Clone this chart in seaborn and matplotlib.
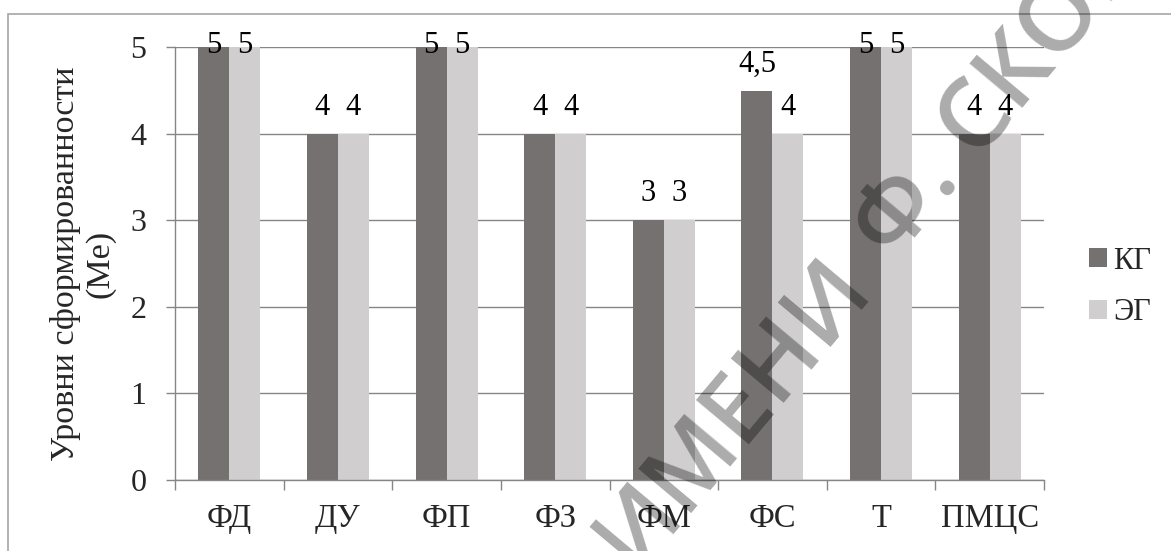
import numpy as np
import pandas as pd
import matplotlib
matplotlib.use("Agg")
import matplotlib.pyplot as plt
import seaborn as sns
from matplotlib.patches import Rectangle

# ---- data ----
categories = ["ФД", "ДУ", "ФП", "ФЗ", "ФМ", "ФС", "Т", "ПМЦС"]
series_names = ["КГ", "ЭГ"]
kg_values = [5, 4, 5, 4, 3, 4.5, 5, 4]
eg_values = [5, 4, 5, 4, 3, 4, 5, 4]
y_ticks = [0, 1, 2, 3, 4, 5]
y_label = "Уровни сформированности\n(Me)"
watermark_parts = ["ИМЕНИ", "Ф. СКОРИНЫ"]

df = pd.DataFrame({
    "cat": categories * 2,
    "group": [series_names[0]] * len(categories) + [series_names[1]] * len(categories),
    "value": kg_values + eg_values,
})

sns.set_theme(style="white")
plt.rcParams["font.family"] = ["Liberation Serif", "DejaVu Serif"]

W, H = 1171, 551
fig = plt.figure(figsize=(W / 100, H / 100), dpi=100)
ax = fig.add_axes([175 / W, 1 - 480 / H, (1044 - 175) / W, (480 - 47.4) / H])

sns.barplot(data=df, x="cat", y="value", hue="group",
            palette=["#767171", "#d0cece"], saturation=1,
            width=0.57, gap=0, errorbar=None,
            edgecolor="none", linewidth=0, ax=ax)

ax.set_ylim(0, 5)
ax.set_xlim(-0.5, len(categories) - 0.5)
ax.set_yticks(y_ticks)
ax.yaxis.grid(True, color="#868686", lw=1)
ax.set_axisbelow(True)
for s in ["top", "right"]:
    ax.spines[s].set_visible(False)
for s in ["left", "bottom"]:
    ax.spines[s].set_color("#868686")
    ax.spines[s].set_linewidth(1)

ax.tick_params(axis="y", which="major", length=6.5, width=1, color="#868686",
               direction="out", pad=14, labelsize=23, left=True)
ax.tick_params(axis="x", which="major", length=0, pad=17, labelsize=23.5)
ax.set_xticks(np.arange(-0.5, len(categories), 1), minor=True)
ax.tick_params(axis="x", which="minor", length=7.2, width=1, color="#868686",
               direction="out", bottom=True)
ax.set_xlabel("")
ax.set_ylabel(y_label, fontsize=24.5, va="center", linespacing=1.15)
ax.yaxis.set_label_coords(-0.106, 0.5)

# data labels
def fmt(v):
    return f"{v:g}".replace(".", ",")

for cont, vals in zip(ax.containers, [kg_values, eg_values]):
    for bar, v in zip(cont, vals):
        x = bar.get_x() + bar.get_width() / 2
        y = min(v + 0.22, 4.94)
        ax.text(x, y, fmt(v), ha="center", va="baseline", fontsize=22,
                color="black", clip_on=False)

handles, labels = ax.get_legend_handles_labels()
ax.legend(handles, labels, loc="center left",
          bbox_to_anchor=(1089 / W, 1 - 287 / H), bbox_transform=fig.transFigure,
          frameon=False, fontsize=22, handlelength=0.58, handleheight=0.58,
          handletextpad=0.2, labelspacing=0.75, borderpad=0, borderaxespad=0)

# outer chart frame
fig.patches.append(Rectangle((8 / W, -0.05), 1.1, (1 - 14 / H) + 0.05,
                             transform=fig.transFigure, fill=False,
                             edgecolor="#a6a6a6", lw=1.2))

# watermark of the source document (diagonal, semi-transparent)
wm_kw = dict(rotation=50, rotation_mode="anchor", va="baseline", fontsize=70,
             fontweight="semibold", color="black", alpha=0.33,
             family=["Open Sans", "DejaVu Sans"], zorder=10)
fig.text(872 / W, 1 - 287 / H, watermark_parts[0], ha="right", **wm_kw)
fig.text(892 / W, 1 - 263 / H, watermark_parts[1], ha="left", **wm_kw)

fig.savefig("out.png", dpi=100)
